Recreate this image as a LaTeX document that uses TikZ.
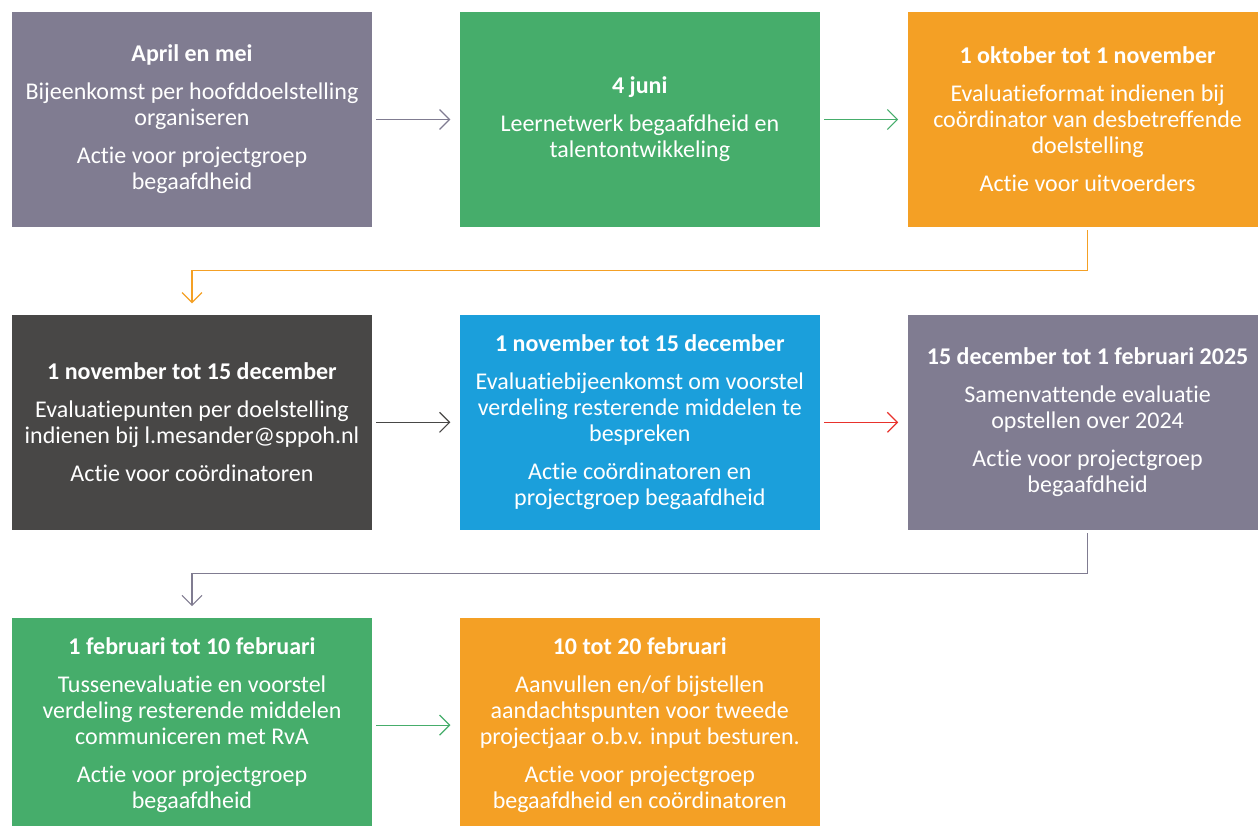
\documentclass[tikz,border=0pt]{standalone}
\usepackage{fontspec}
\setmainfont{Carlito}[RawFeature={-liga;-clig;-calt}]
\usetikzlibrary{positioning,arrows.meta}
\definecolor{paars}{HTML}{807C91}
\definecolor{groen}{HTML}{46AD6B}
\definecolor{oranje}{HTML}{F4A025}
\definecolor{donker}{HTML}{484746}
\definecolor{blauw}{HTML}{1B9FDB}
\definecolor{rood}{HTML}{E8322C}
\newcommand{\kop}[1]{{\bfseries #1}\\[6pt]}

\begin{document}
\begin{tikzpicture}[x=0.5pt, y=-0.5pt, node distance=43.5pt,
	box/.style={minimum width=180pt, minimum height=107.5pt, inner sep=0pt, align=center, text=white, font=\fontsize{12}{13}\selectfont},
	flow/.style={line width=0.6pt, -{Straight Barb[length=5pt, width=10pt]}, shorten <=2pt, shorten >=4.5pt}]
	\useasboundingbox (0,0) rectangle (1258,825);

	% rij 1
	\node[box, fill=paars] (apr) at (192,119.5) {\kop{April en mei}Bijeenkomst per hoofddoelstelling\\organiseren\\[6pt]Actie voor projectgroep\\begaafdheid};
	\node[box, fill=groen, right=of apr] (jun) {\kop{4 juni}Leernetwerk begaafdheid en\\talentontwikkeling};
	\node[box, fill=oranje, right=of jun] (okt) {\kop{1 oktober tot 1 november}Evaluatieformat indienen bij\\coördinator van desbetreffende\\doelstelling\\[6pt]Actie voor uitvoerders};

	% rij 2
	\node[box, fill=donker, below=of apr] (nov) {\kop{1 november tot 15 december}Evaluatiepunten per doelstelling\\indienen bij l.mesander@sppoh.nl\\[6pt]Actie voor coördinatoren};
	\node[box, fill=blauw, right=of nov] (novb) {\kop{1 november tot 15 december}Evaluatiebijeenkomst om voorstel\\verdeling resterende middelen te\\bespreken\\[6pt]Actie coördinatoren en\\projectgroep begaafdheid};
	\node[box, fill=paars, right=of novb] (dec) {\kop{15 december tot 1 februari 2025}Samenvattende evaluatie\\opstellen over 2024\\[6pt]Actie voor projectgroep\\begaafdheid};

	% rij 3
	\node[box, fill=groen, below=of nov] (feb) {\kop{1 februari tot 10 februari}Tussenevaluatie en voorstel\\verdeling resterende middelen\\communiceren met RvA\\[6pt]Actie voor projectgroep\\begaafdheid};
	\node[box, fill=oranje, right=of feb] (febb) {\kop{10 tot 20 februari}Aanvullen en/of bijstellen\\aandachtspunten voor tweede\\projectjaar o.b.v. input besturen.\\[6pt]Actie voor projectgroep\\begaafdheid en coördinatoren};

	\draw[flow, paars] (apr) -- (jun);
	\draw[flow, groen] (jun) -- (okt);
	\draw[flow, oranje, shorten <=1.5pt, shorten >=5.5pt] (okt.south) -- ++(0,43) -| (nov.north);
	\draw[flow, donker] (nov) -- (novb);
	\draw[flow, rood] (novb) -- (dec);
	\draw[flow, paars, shorten <=1.5pt, shorten >=5.5pt] (dec.south) -- ++(0,43) -| (feb.north);
	\draw[flow, groen] (feb) -- (febb);
\end{tikzpicture}
\end{document}
